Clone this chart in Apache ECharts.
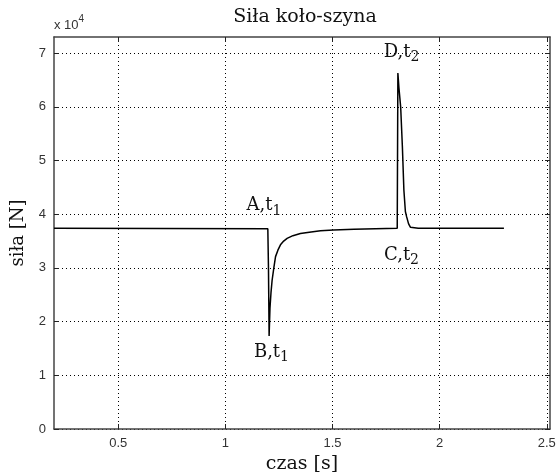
<!DOCTYPE html>
<html>
<head>
<meta charset="utf-8">
<script src="https://cdn.jsdelivr.net/npm/echarts@6/dist/echarts.min.js"></script>
<style>
  html, body { margin: 0; padding: 0; background: #fff; }
  #chart { width: 557px; height: 473px; }
</style>
</head>
<body>
<div id="chart"></div>
<script>
  // czas [s] and siła [N]
  const czas = [0.2, 1.198, 1.201, 1.204, 1.208, 1.213, 1.218, 1.226, 1.234, 1.245, 1.257, 1.272, 1.288, 1.315, 1.35, 1.4, 1.444, 1.505, 1.6, 1.7, 1.802, 1.805, 1.81, 1.818, 1.826, 1.833, 1.84, 1.846, 1.855, 1.864, 1.9, 2.3];
  const sila = [37400, 37300, 30000, 17300, 22500, 25500, 27700, 30000, 32100, 33300, 34300, 35000, 35500, 36000, 36400, 36700, 36900, 37050, 37200, 37300, 37400, 66300, 63500, 60000, 52600, 44500, 40500, 39500, 38200, 37550, 37400, 37400];
  const xTicks = [0.5, 1, 1.5, 2, 2.5];
  const yTicks = [0, 10000, 20000, 30000, 40000, 50000, 60000, 70000];

  // opisy punktów: [tekst, indeks, czas, siła]
  const punkty = [
    ['A', '1', 1.18, 41600],
    ['B', '1', 1.215, 14300],
    ['D', '2', 1.822, 70200],
    ['C', '2', 1.822, 32400]
  ];

  const chart = echarts.init(document.getElementById('chart'));

  const tickFont = { fontFamily: 'Liberation Sans', fontSize: 13, color: '#333' };
  const gridLine = { show: true, lineStyle: { color: '#000', type: [1, 3], width: 1 } };

  const option = {
    animation: false,
    title: {
      text: 'Siła koło-szyna',
      left: 300,
      top: 3,
      textAlign: 'center',
      textStyle: { fontFamily: 'DejaVu Serif', fontSize: 19, fontWeight: 'normal', color: '#111' }
    },
    grid: { left: 54, right: 7, top: 37, bottom: 44, show: false, outerBoundsMode: 'none' },
    graphic: [
      {
        type: 'text',
        left: 54,
        top: 14,
        style: {
          text: '{n|x 10}{s|4}',
          rich: {
            n: { fontSize: 13, fontFamily: 'Liberation Sans', fill: '#333', padding: [6, 0, 0, 0] },
            s: { fontSize: 10, fontFamily: 'Liberation Sans', fill: '#333', padding: [0, 0, 6, 0] }
          }
        }
      }
    ],
    xAxis: [
      {
        type: 'value',
        min: 0.2,
        max: 2.515,
        position: 'bottom',
        name: 'czas [s]',
        nameLocation: 'middle',
        nameGap: 21,
        nameTextStyle: { fontFamily: 'DejaVu Serif', fontSize: 19, color: '#111' },
        axisLine: { show: true, onZero: false, lineStyle: { color: '#444', width: 1.5 } },
        axisTick: { show: true, inside: true, length: 5, customValues: xTicks, lineStyle: { color: '#222' } },
        axisLabel: { customValues: xTicks, margin: 8, ...tickFont, formatter: v => String(v) },
        splitLine: gridLine
      },
      {
        type: 'value',
        min: 0.2,
        max: 2.515,
        position: 'top',
        axisLine: { show: true, onZero: false, lineStyle: { color: '#444', width: 1.5 } },
        axisTick: { show: true, inside: true, length: 5, customValues: xTicks, lineStyle: { color: '#222' } },
        axisLabel: { show: false },
        splitLine: { show: false }
      }
    ],
    yAxis: [
      {
        type: 'value',
        min: 0,
        max: 73000,
        position: 'left',
        name: 'siła [N]',
        nameLocation: 'middle',
        nameGap: 27,
        nameTextStyle: { fontFamily: 'DejaVu Serif', fontSize: 18, color: '#111' },
        axisLine: { show: true, onZero: false, lineStyle: { color: '#444', width: 1.5 } },
        axisTick: { show: true, inside: true, length: 5, customValues: yTicks, lineStyle: { color: '#222' } },
        axisLabel: { customValues: yTicks, margin: 8, ...tickFont, formatter: v => String(v / 10000) },
        splitLine: gridLine
      },
      {
        type: 'value',
        min: 0,
        max: 73000,
        position: 'right',
        axisLine: { show: true, onZero: false, lineStyle: { color: '#444', width: 1.5 } },
        axisTick: { show: true, inside: true, length: 5, customValues: yTicks, lineStyle: { color: '#222' } },
        axisLabel: { show: false },
        splitLine: { show: false }
      }
    ],
    series: [
      {
        type: 'line',
        data: czas.map((t, i) => [t, sila[i]]),
        showSymbol: false,
        lineStyle: { color: '#000', width: 1.5 },
        itemStyle: { color: '#000' },
        markPoint: {
          symbol: 'circle',
          symbolSize: 0,
          silent: true,
          label: {
            show: true,
            position: 'inside',
            formatter: p => '{a|' + p.name + ',t}{s|' + p.value + '}',
            rich: {
              a: { fontFamily: 'DejaVu Serif', fontSize: 18, color: '#111' },
              s: { fontFamily: 'DejaVu Serif', fontSize: 14, color: '#111', padding: [11, 0, 0, 0] }
            }
          },
          data: punkty.map(p => ({ name: p[0], value: p[1], coord: [p[2], p[3]] }))
        }
      }
    ]
  };

  chart.setOption(option);
</script>
</body>
</html>
